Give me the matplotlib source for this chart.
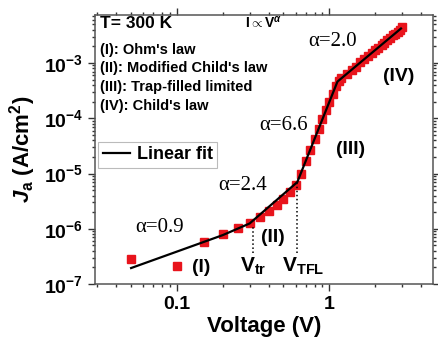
import math
import matplotlib.pyplot as plt
from matplotlib.ticker import LogLocator, FixedLocator, FuncFormatter, NullFormatter

plt.rcParams['font.family'] = 'Liberation Sans'
plt.rcParams['font.weight'] = 'bold'
plt.rcParams['mathtext.fontset'] = 'custom'
plt.rcParams['mathtext.rm'] = 'Liberation Sans:bold'
plt.rcParams['mathtext.bf'] = 'Liberation Sans:bold'
plt.rcParams['mathtext.it'] = 'Liberation Sans:bold:italic'

# measured J-V points
voltage = [0.05, 0.1, 0.15, 0.2, 0.25, 0.3, 0.35, 0.4, 0.45, 0.5, 0.55, 0.6,
           0.65, 0.7, 0.75, 0.8, 0.85, 0.9, 0.95, 1.0, 1.05, 1.1, 1.15,
           1.2, 1.3, 1.4, 1.5, 1.6, 1.7, 1.8, 1.9, 2.0, 2.1, 2.2, 2.3, 2.4,
           2.5, 2.6, 2.7, 2.8, 2.9, 3.0]
current = [2.8e-7, 2.1e-7, 5.7e-7, 7.9e-7, 1.02e-6, 1.26e-6, 1.65e-6, 2.1e-6,
           2.7e-6, 3.5e-6, 4.6e-6, 6.3e-6,
           9.8e-6, 1.7e-5, 2.7e-5, 4.3e-5, 6.4e-5, 9.5e-5, 1.4e-4, 2.0e-4,
           2.8e-4, 3.8e-4, 4.7e-4,
           5.4e-4, 6.2e-4, 7.6e-4, 8.6e-4, 1.03e-3, 1.16e-3, 1.36e-3, 1.5e-3,
           1.74e-3, 1.88e-3, 2.15e-3, 2.33e-3, 2.62e-3, 2.8e-3, 3.15e-3,
           3.35e-3, 3.7e-3, 3.9e-3, 4.5e-3]

# piecewise linear fit (log-log)
fit_v = [0.05, 0.2, 0.3, 0.616, 1.13, 2.95]
fit_j = [1.95e-7, 7.7e-7, 1.25e-6, 7.0e-6, 4.6e-4, 4.2e-3]

# guide lines at V_tr and V_TFL
v_tr, v_tfl = 0.316, 0.616
guide_bottom = 3.6e-7
guide_top = [1.16e-6, 7.0e-6]

slope_labels = ['α=0.9', 'α=2.4', 'α=6.6', 'α=2.0']
slope_pos = [(0.0773, 1.06e-6), (0.268, 6.2e-6), (0.497, 7.3e-5), (1.05, 2.46e-3)]
region_labels = ['(I)', '(II)', '(III)', '(IV)']
region_pos = [(0.144, 2.0e-7), (0.428, 7.0e-7), (1.37, 2.67e-5), (2.84, 5.7e-4)]
mechanisms = ["(I): Ohm's law", "(II): Modified Child's law",
              "(III): Trap-filled limited", "(IV): Child's law"]

fig = plt.figure(figsize=(4.38, 3.39), dpi=100)
ax = fig.add_axes([0.217, 0.162, 0.772, 0.794])

ax.plot(voltage, current, 's', color='#e8141c', ms=5.5, mec='#e8141c', zorder=2)
ax.plot(fit_v, fit_j, '-', color='black', lw=1.6, label='Linear fit', zorder=3)
for v, top in zip([v_tr, v_tfl], guide_top):
    ax.plot([v, v], [guide_bottom, top], ':', color='black', lw=1.1)

ax.set_xscale('log')
ax.set_yscale('log')
ax.set_xlim(0.029, 4.8)
ax.set_ylim(1e-7, 7.4e-3)

ax.xaxis.set_major_locator(FixedLocator([0.1, 1]))
ax.xaxis.set_major_formatter(FuncFormatter(lambda x, p: '%g' % x))
ax.xaxis.set_minor_locator(LogLocator(base=10, subs=range(2, 10)))
ax.xaxis.set_minor_formatter(NullFormatter())
ax.yaxis.set_major_locator(FixedLocator([1e-7, 1e-6, 1e-5, 1e-4, 1e-3]))
ax.yaxis.set_major_formatter(FuncFormatter(lambda y, p: r'$10^{%d}$' % round(math.log10(y))))
ax.yaxis.set_minor_locator(LogLocator(base=10, subs=range(2, 10)))
ax.yaxis.set_minor_formatter(NullFormatter())
ax.tick_params(which='both', direction='out', top=True, right=True, width=1, colors='#333333')
ax.tick_params(which='major', length=5, labelsize=14, labelcolor='black')
ax.tick_params(which='minor', length=2.5)
for s in ax.spines.values():
    s.set_color('#555555')
    s.set_linewidth(1.1)

ax.set_xlabel('Voltage (V)', fontsize=16, fontweight='bold', labelpad=2)
ax.set_ylabel(r'$J_{\mathrm{a}}$ (A/cm$^2$)', fontsize=16, fontweight='bold', labelpad=4)

ax.text(0.015, 0.967, 'T= 300 K', transform=ax.transAxes, fontsize=12.5,
        va='center', ha='left')
ax.text(0.5, 0.97, r'I$\propto$V$^{\alpha}$', transform=ax.transAxes, fontsize=10,
        va='center', ha='center')
for i, t in enumerate(mechanisms):
    ax.text(0.015, 0.870 - i * 0.069, t, transform=ax.transAxes, fontsize=10.5,
            va='center', ha='left')

for t, (x, y) in zip(slope_labels, slope_pos):
    ax.text(x, y, t, fontsize=15, family='Liberation Serif', fontweight='normal',
            ha='center', va='center')
for t, (x, y) in zip(region_labels, region_pos):
    ax.text(x, y, t, fontsize=14, ha='center', va='center')

ax.text(v_tr, 2.1e-7, r'V$_{\mathrm{tr}}$', fontsize=15, ha='center', va='center')
ax.text(0.672, 2.1e-7, r'V$_{\mathrm{TFL}}$', fontsize=15, ha='center', va='center')

leg = ax.legend(loc='upper left', bbox_to_anchor=(0.009, 0.528), borderaxespad=0,
                fontsize=13, handlelength=1.5, handletextpad=0.4, fancybox=False,
                borderpad=0.25)
leg.get_frame().set_edgecolor('#aaaaaa')
leg.get_frame().set_linewidth(0.8)

fig.savefig('out.png', dpi=100)
